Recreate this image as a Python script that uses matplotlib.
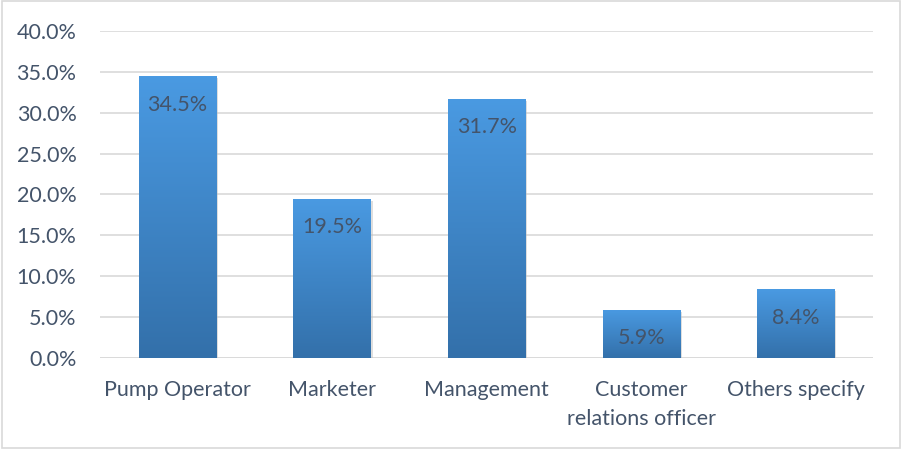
import numpy as np
import matplotlib.pyplot as plt
from matplotlib.colors import LinearSegmentedColormap
from matplotlib.patches import Rectangle

categories = ["Pump Operator", "Marketer", "Management", "Customer\nrelations officer", "Others specify"]
values = [34.5, 19.5, 31.7, 5.9, 8.4]
yticks = [0, 5, 10, 15, 20, 25, 30, 35, 40]

txt = "#44546A"
plt.rcParams["font.family"] = ["Lato", "DejaVu Sans"]

fig = plt.figure(figsize=(9.02, 4.49), dpi=100)
ax = fig.add_axes([0.111, 0.203, 0.857, 0.728])

fig.patches.append(Rectangle((0.002, 0.002), 0.996, 0.996, transform=fig.transFigure,
                             fill=False, edgecolor="#D9D9D9", lw=1.2))

x = np.arange(len(categories))
bars = ax.bar(x, values, width=0.5, color="none", zorder=3)

cmap = LinearSegmentedColormap.from_list("g", ["#3370AA", "#4A9AE2"])
grad = np.linspace(0, 1, 256).reshape(-1, 1)
for b, v in zip(bars, values):
    x0 = b.get_x()
    w = b.get_width()
    # faint shadow
    ax.add_patch(Rectangle((x0 + 0.012, -0.25), w, v, color="#BFBFBF", alpha=0.5, zorder=2, lw=0))
    im = ax.imshow(grad, cmap=cmap, origin="lower", aspect="auto",
                   extent=(x0, x0 + w, 0, v), zorder=3)
    im.set_clip_path(b)
    ax.text(b.get_x() + w / 2, v - 3.5, f"{v:.1f}%", ha="center", va="center",
            fontsize=15.5, color=txt, zorder=4)

ax.set_xlim(-0.5, len(categories) - 0.5)
ax.set_ylim(0, 40)
ax.set_yticks(yticks)
ax.set_yticklabels([f"{t:.1f}%" for t in yticks])
ax.set_xticks(x)
ax.set_xticklabels(categories, linespacing=1.55)
ax.tick_params(axis="both", length=0, labelsize=15.5, colors=txt)
ax.tick_params(axis="y", pad=17)
ax.tick_params(axis="x", pad=16)
ax.grid(axis="y", color="#D9D9D9", lw=1.2, zorder=0)
for s in ax.spines.values():
    s.set_visible(False)
ax.axhline(0, color="#D9D9D9", lw=1.2, zorder=1)

fig.savefig("out.png", dpi=100)
